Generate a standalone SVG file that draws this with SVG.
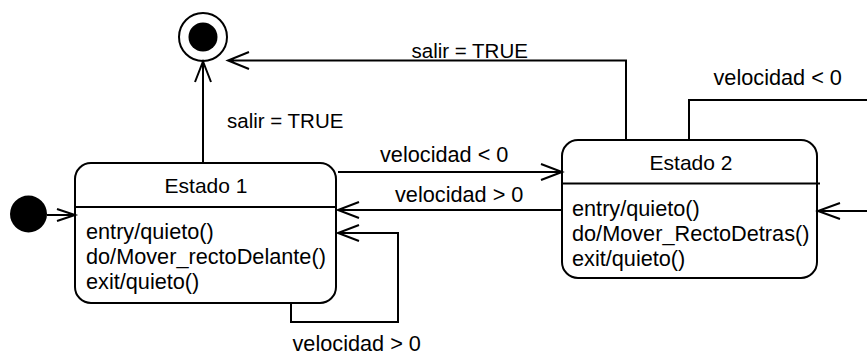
<svg xmlns="http://www.w3.org/2000/svg" width="867" height="363" viewBox="0 0 867 363">
<style>
.box{fill:#fff;stroke:#000;stroke-width:2}
.ln{fill:none;stroke:#000;stroke-width:2}
.t{font-family:"Liberation Sans",Arial,sans-serif;font-size:21.7px;fill:#000}
.h{font-family:"Liberation Sans",Arial,sans-serif;font-size:21px;fill:#000}
.lb{font-family:"Liberation Sans",Arial,sans-serif;font-size:21.7px;fill:#000}
.ls{font-family:"Liberation Sans",Arial,sans-serif;font-size:20.5px;fill:#000}
</style>
<rect width="867" height="363" fill="#fff"/>
<g id="final">
<circle cx="203" cy="37" r="24" class="box"/>
<circle cx="203" cy="37" r="14.5" fill="#000"/>
</g>
<g id="initial">
<circle cx="28.5" cy="214" r="18.5" fill="#000"/>
</g>
<g id="estado1">
<rect x="75" y="163" width="261" height="140" rx="16" class="box"/>
<line x1="75" y1="207" x2="336" y2="207" class="ln"/>
<text x="206" y="193" text-anchor="middle" class="h">Estado 1</text>
<text x="86" y="239" class="t">entry/quieto()</text>
<text x="86" y="264" class="t">do/Mover_rectoDelante()</text>
<text x="86" y="289" class="t">exit/quieto()</text>
</g>
<g id="estado2">
<rect x="562" y="140" width="255" height="138" rx="16" class="box"/>
<line x1="562" y1="183.5" x2="820" y2="183.5" class="ln"/>
<text x="691" y="169.5" text-anchor="middle" class="h">Estado 2</text>
<text x="572" y="216" class="t">entry/quieto()</text>
<text x="572" y="241" class="t">do/Mover_RectoDetras()</text>
<text x="572" y="266" class="t">exit/quieto()</text>
</g>
<g id="connectors">
<path d="M47,215 H75 M57,209 L75,215 L57,221" class="ln"/>
<path d="M203,163 V61.5 M195,82 L203,61.5 L211,82" class="ln"/>
<path d="M626,140 V60.5 H228 M249,52 L228,60.5 L249,69" class="ln"/>
<path d="M338,172 H562 M541,164 L562,172 L541,180" class="ln"/>
<path d="M562,210 H338 M359,202 L338,210 L359,218" class="ln"/>
<path d="M291,303 V322 H398 V233 H338 M359,225 L338,233 L359,241" class="ln"/>
<path d="M689,140 V100 H900 V211 H818 M840,203 L818,211 L840,219" class="ln"/>
</g>
<g id="labels">
<text x="411.5" y="58" class="ls">salir = TRUE</text>
<text x="227" y="128" class="ls">salir = TRUE</text>
<text x="380" y="161.5" class="lb">velocidad &lt; 0</text>
<text x="395" y="202" class="lb">velocidad &gt; 0</text>
<text x="713.5" y="85" class="lb">velocidad &lt; 0</text>
<text x="292.5" y="351" class="lb">velocidad &gt; 0</text>
</g>
</svg>
